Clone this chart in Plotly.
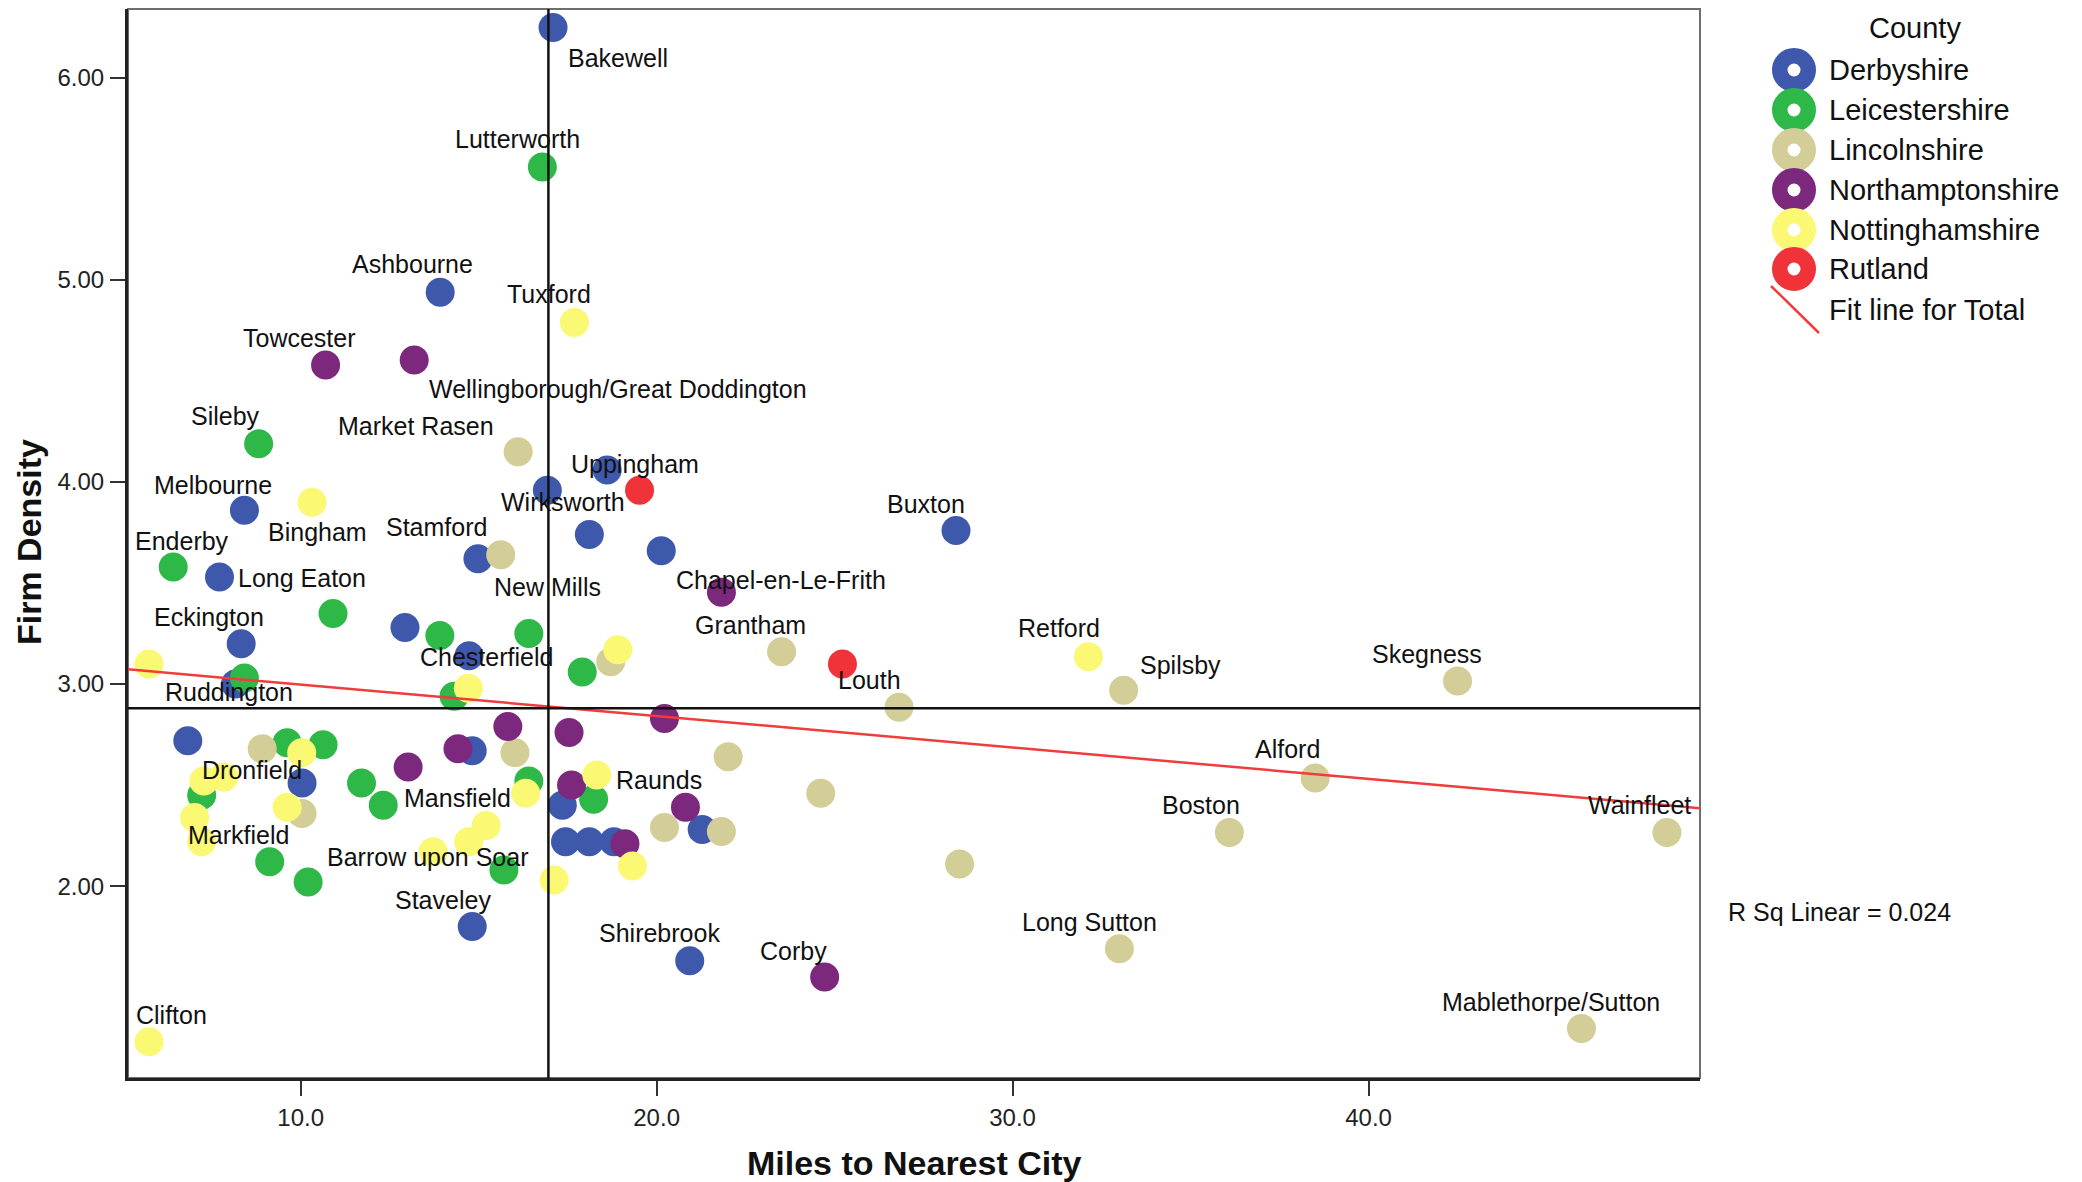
import numpy as np
import plotly.graph_objects as go

# ---------------------------------------------------------------------------
# Data: firm density against miles to the nearest city, by county
# ---------------------------------------------------------------------------
counties = ["Derbyshire", "Leicestershire", "Lincolnshire",
            "Northamptonshire", "Nottinghamshire", "Rutland"]

derbyshire_towns = ["Bakewell", "Ashbourne", "", "", "Melbourne", "Wirksworth",
                    "New Mills", "Chapel-en-Le-Frith", "Buxton", "Long Eaton",
                    "Chesterfield", "Eckington", "", "", "Dronfield", "", "", "",
                    "", "", "", "", "Staveley", "Shirebrook"]
derbyshire_miles = [17.09, 13.92, 16.93, 18.61, 8.42, 18.11, 14.98, 20.13, 28.41,
                    7.72, 12.93, 8.33, 14.73, 8.17, 6.83, 10.04, 14.82, 17.35,
                    17.44, 18.11, 18.80, 21.28, 14.82, 20.93]
derbyshire_density = [6.25, 4.94, 3.96, 4.06, 3.86, 3.74, 3.62, 3.66, 3.76,
                      3.53, 3.28, 3.20, 3.14, 3.00, 2.72, 2.51, 2.67, 2.40,
                      2.22, 2.22, 2.22, 2.28, 1.80, 1.63]

leicestershire_towns = ["Lutterworth", "Sileby", "Enderby", "", "", "", "", "",
                        "", "", "", "", "", "", "", "", "Markfield", "",
                        "Barrow upon Soar"]
leicestershire_miles = [16.79, 8.82, 6.42, 10.91, 13.91, 16.41, 8.42, 14.31, 17.91,
                        9.62, 10.63, 7.22, 11.71, 12.32, 16.41, 18.23, 9.13, 10.21,
                        15.71]
leicestershire_density = [5.56, 4.19, 3.58, 3.35, 3.24, 3.25, 3.03, 2.94, 3.06,
                          2.71, 2.70, 2.45, 2.51, 2.40, 2.52, 2.43, 2.12, 2.02,
                          2.08]

lincolnshire_towns = ["Market Rasen", "Stamford", "", "Grantham", "Louth", "", "",
                      "", "", "", "", "", "", "Spilsby", "Skegness", "Alford",
                      "Boston", "Wainfleet", "Long Sutton", "Mablethorpe/Sutton"]
lincolnshire_miles = [16.11, 15.62, 18.71, 23.51, 26.81, 8.92, 10.04, 16.02, 22.01,
                      24.61, 20.22, 21.82, 28.51, 33.12, 42.50, 38.50, 36.09, 48.38,
                      33.00, 45.98]
lincolnshire_density = [4.15, 3.64, 3.11, 3.16, 2.885, 2.68, 2.36, 2.66, 2.64,
                        2.46, 2.29, 2.27, 2.11, 2.97, 3.015, 2.535, 2.265, 2.265,
                        1.69, 1.295]

northamptonshire_towns = ["Towcester", "Wellingborough/Great Doddington", "", "",
                          "", "", "", "", "Raunds", "", "", "Corby"]
northamptonshire_miles = [10.70, 13.19, 21.82, 20.22, 17.54, 15.82, 14.42, 13.02,
                          17.61, 20.81, 19.11, 24.72]
northamptonshire_density = [4.58, 4.605, 3.455, 2.83, 2.76, 2.79, 2.68, 2.59,
                            2.50, 2.39, 2.21, 1.55]

nottinghamshire_towns = ["Tuxford", "Bingham", "", "Ruddington", "", "Retford", "",
                         "", "", "", "", "", "Mansfield", "", "", "", "", "", "",
                         "Clifton"]
nottinghamshire_miles = [17.69, 10.32, 18.91, 5.74, 14.71, 32.13, 10.03, 7.84, 7.28,
                         7.02, 7.22, 9.62, 16.32, 18.32, 15.21, 14.72, 13.72, 17.12,
                         19.32, 5.74]
nottinghamshire_density = [4.79, 3.90, 3.17, 3.10, 2.98, 3.135, 2.66, 2.54, 2.52,
                           2.34, 2.22, 2.39, 2.46, 2.55, 2.30, 2.22, 2.17, 2.03,
                           2.10, 1.23]

rutland_towns = ["Uppingham", ""]
rutland_miles = [19.52, 25.22]
rutland_density = [3.96, 3.10]

# reference lines at the overall means
ref_line_miles = 16.96
ref_line_density = 2.88

x_axis_ticks = [10, 20, 30, 40]
y_axis_ticks = [2, 3, 4, 5, 6]
fit_label = "R Sq Linear = 0.024"

# ---------------------------------------------------------------------------
# Styling
# ---------------------------------------------------------------------------
W, H = 2082, 1182
PLOT_L, PLOT_R, PLOT_T, PLOT_B = 128, 1700, 9, 1078
X_RANGE = [5.15, 49.31]
Y_RANGE = [1.05, 6.342]

colors = {
    "Derbyshire": "#3e58ac",
    "Leicestershire": "#2eb848",
    "Lincolnshire": "#d3ce97",
    "Northamptonshire": "#7c287d",
    "Nottinghamshire": "#fbf873",
    "Rutland": "#ef3338",
}
FIT_COLOR = "#f03c3c"
FONT = "Liberation Sans"
TEXT = "#111111"

# label placement: (x anchor, x shift px, y shift px downward) relative to the point
label_place = {
    "Lutterworth": ("right", 39.8, -28.2), "Ashbourne": ("right", 34.5, -28.7),
    "Tuxford": ("right", 18.3, -28.3), "Towcester": ("right", 32, -27),
    "Sileby": ("right", 3.3, -27.4), "Market Rasen": ("right", -22.3, -25.8),
    "Melbourne": ("right", 29.6, -25.6), "Wirksworth": ("right", 38.1, -33.1),
    "Stamford": ("right", -11.3, -27.8), "Buxton": ("right", 11.4, -26.3),
    "Eckington": ("right", 25, -26.8), "Grantham": ("right", 26.4, -26.8),
    "Retford": ("right", 13.3, -28.6), "Skegness": ("right", 26.6, -26.6),
    "Louth": ("right", 3.5, -27.4), "Alford": ("right", 6.9, -28.6),
    "Mansfield": ("right", -12.4, 4.5), "Markfield": ("right", 21.8, -26.7),
    "Barrow upon Soar": ("right", 26.6, -13.1), "Staveley": ("right", 21, -26.3),
    "Boston": ("right", 13, -27.5), "Wainfleet": ("right", 25.9, -27.5),
    "Long Sutton": ("right", 39.4, -26.3), "Shirebrook": ("right", 32.1, -27.4),
    "Corby": ("right", 4.6, -26.2), "Mablethorpe/Sutton": ("right", 80.7, -26.8),
    "Uppingham": ("center", -4.9, -26.2),
    "Bakewell": ("left", 13.4, 30.4),
    "Wellingborough/Great Doddington": ("left", 12.5, 29.2),
    "New Mills": ("left", 14.1, 28.3), "Chapel-en-Le-Frith": ("left", 12.6, 29),
    "Long Eaton": ("left", 16.1, 1.3), "Chesterfield": ("left", 12.6, 29.3),
    "Ruddington": ("left", 13.7, 28.2), "Dronfield": ("left", 12, 29.2),
    "Raunds": ("left", 42.5, -4.9), "Spilsby": ("left", 13.9, -25.2),
    "Clifton": ("left", -15.5, -26.7), "Enderby": ("left", -39.8, -26.4),
    "Bingham": ("left", -46.1, 29.5),
}


def paper_x(px):
    return (px - PLOT_L) / (PLOT_R - PLOT_L)


def paper_y(py):
    return (PLOT_B - py) / (PLOT_B - PLOT_T)


series = {
    "Derbyshire": (derbyshire_towns, derbyshire_miles, derbyshire_density),
    "Leicestershire": (leicestershire_towns, leicestershire_miles, leicestershire_density),
    "Lincolnshire": (lincolnshire_towns, lincolnshire_miles, lincolnshire_density),
    "Northamptonshire": (northamptonshire_towns, northamptonshire_miles, northamptonshire_density),
    "Nottinghamshire": (nottinghamshire_towns, nottinghamshire_miles, nottinghamshire_density),
    "Rutland": (rutland_towns, rutland_miles, rutland_density),
}

fig = go.Figure()
annotations = []
all_x, all_y = [], []

for county in counties:
    towns, miles, dens = series[county]
    all_x += miles
    all_y += dens
    fig.add_trace(go.Scatter(
        x=miles, y=dens, mode="markers", name=county, text=towns,
        marker=dict(size=29, color=colors[county], line=dict(width=0)),
        hovertemplate="%{text}<br>%{x:.1f} miles<br>%{y:.2f}<extra>" + county + "</extra>",
    ))
    for t, xv, yv in zip(towns, miles, dens):
        if not t:
            continue
        anchor, dx, dy = label_place[t]
        annotations.append(dict(
            x=xv, y=yv, xref="x", yref="y", text=t, showarrow=False,
            xanchor=anchor, yanchor="middle", xshift=dx, yshift=-dy,
            font=dict(family=FONT, size=25, color=TEXT),
        ))

# linear fit over all towns
slope, intercept = np.polyfit(np.array(all_x), np.array(all_y), 1)

fig.add_trace(go.Scatter(
    x=X_RANGE, y=[intercept + slope * X_RANGE[0], intercept + slope * X_RANGE[1]],
    mode="lines", line=dict(color=FIT_COLOR, width=2.5), hoverinfo="skip",
    name="Fit line for Total",
))

shapes = [
    # plot frame
    dict(type="rect", xref="paper", yref="paper", x0=0, x1=1, y0=0, y1=1,
         line=dict(color="#6e6e6e", width=2), layer="below"),
    # mean reference lines
    dict(type="line", xref="x", yref="paper", x0=ref_line_miles, x1=ref_line_miles,
         y0=0, y1=1, line=dict(color="#111111", width=2.5), layer="above"),
    dict(type="line", xref="paper", yref="y", x0=0, x1=1, y0=ref_line_density,
         y1=ref_line_density, line=dict(color="#111111", width=2.5), layer="above"),
]

# legend (ring swatches, fit-line swatch)
LEG_X = 1794
LEG_TEXT_X = 1827
leg_rows = [70, 110, 150, 190, 230, 269]
annotations.append(dict(
    x=paper_x(1915), y=paper_y(28), xref="paper", yref="paper", text="County",
    showarrow=False, xanchor="center", yanchor="middle",
    font=dict(family=FONT, size=29, color=TEXT)))
for county, ry in zip(counties, leg_rows):
    shapes.append(dict(
        type="circle", xref="paper", yref="paper", xsizemode="pixel", ysizemode="pixel",
        xanchor=paper_x(LEG_X), yanchor=paper_y(ry),
        x0=-14.25, x1=14.25, y0=-14.25, y1=14.25,
        line=dict(color=colors[county], width=15.5), fillcolor="white"))
    annotations.append(dict(
        x=paper_x(LEG_TEXT_X), y=paper_y(ry), xref="paper", yref="paper", text=county,
        showarrow=False, xanchor="left", yanchor="middle",
        font=dict(family=FONT, size=29, color=TEXT)))
shapes.append(dict(
    type="line", xref="paper", yref="paper",
    x0=paper_x(1771), y0=paper_y(286), x1=paper_x(1819), y1=paper_y(333),
    line=dict(color=FIT_COLOR, width=2.5)))
annotations.append(dict(
    x=paper_x(LEG_TEXT_X), y=paper_y(310), xref="paper", yref="paper",
    text="Fit line for Total", showarrow=False, xanchor="left", yanchor="middle",
    font=dict(family=FONT, size=29, color=TEXT)))

# fit statistic
annotations.append(dict(
    x=paper_x(1726), y=paper_y(912), xref="paper", yref="paper", text=fit_label,
    showarrow=False, xanchor="left", yanchor="middle",
    font=dict(family=FONT, size=25, color=TEXT)))

# axis titles
annotations.append(dict(
    x=paper_x(914), y=paper_y(1163), xref="paper", yref="paper",
    text="Miles to Nearest City", showarrow=False, xanchor="center", yanchor="middle",
    font=dict(family=FONT, size=34, color=TEXT, weight="bold")))
annotations.append(dict(
    x=paper_x(29), y=paper_y(542), xref="paper", yref="paper",
    text="Firm Density", showarrow=False, xanchor="center", yanchor="middle",
    textangle=-90, font=dict(family=FONT, size=34, color=TEXT, weight="bold")))

fig.update_layout(
    width=W, height=H,
    margin=dict(l=PLOT_L, r=W - PLOT_R, t=PLOT_T, b=H - PLOT_B, pad=0),
    paper_bgcolor="white", plot_bgcolor="white",
    showlegend=False,
    shapes=shapes, annotations=annotations,
    xaxis=dict(range=X_RANGE, tickvals=x_axis_ticks, tickformat=".1f",
               showgrid=False, zeroline=False, showline=True, linecolor="#222222",
               linewidth=3, ticks="outside", ticklen=15, tickwidth=2,
               tickcolor="#333333", ticklabelstandoff=1,
               tickfont=dict(family=FONT, size=24, color="#222222")),
    yaxis=dict(range=Y_RANGE, tickvals=y_axis_ticks, tickformat=".2f",
               showgrid=False, zeroline=False, showline=True, linecolor="#222222",
               linewidth=3, ticks="outside", ticklen=15, tickwidth=2,
               tickcolor="#333333", ticklabelstandoff=1,
               tickfont=dict(family=FONT, size=24, color="#222222")),
)

fig.write_html("out.html")
